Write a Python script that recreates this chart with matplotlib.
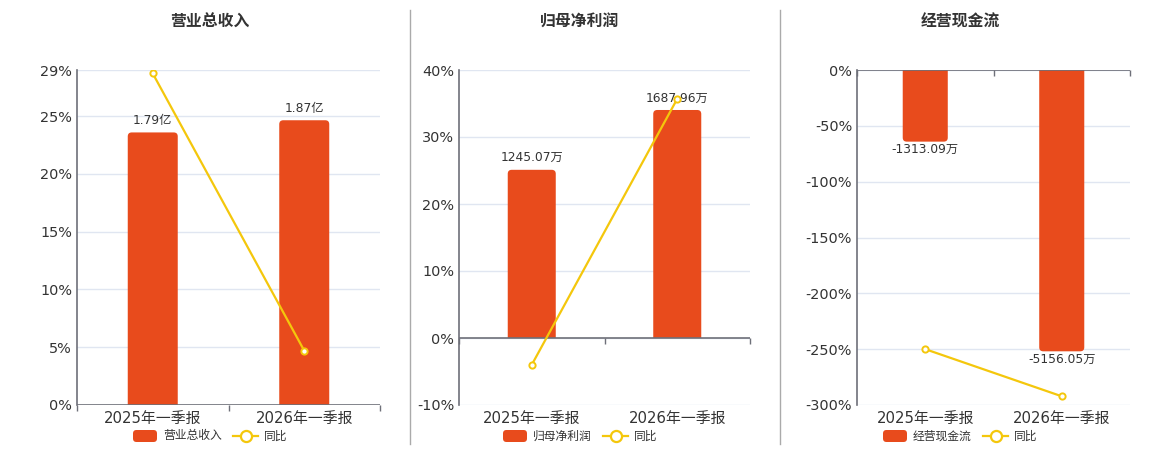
import matplotlib
matplotlib.use("Agg")
from matplotlib import pyplot as plt
from matplotlib.patches import FancyBboxPatch, PathPatch
from matplotlib.path import Path
from matplotlib.lines import Line2D
from matplotlib.transforms import Affine2D

plt.rcParams['font.family'] = ['DejaVu Sans', 'Noto Sans CJK SC']

# data
categories = ['2025年一季报', '2026年一季报']
titles = ['营业总收入', '归母净利润', '经营现金流']

revenue = [1.79, 1.87]            # 亿
revenue_labels = ['1.79亿', '1.87亿']
revenue_yoy = [28.7, 4.7]         # %

profit = [1245.07, 1687.96]       # 万
profit_labels = ['1245.07万', '1687.96万']
profit_yoy = [-4.0, 35.7]

cash = [-1313.09, -5156.05]       # 万
cash_labels = ['-1313.09万', '-5156.05万']
cash_yoy = [-250.0, -292.2]

pct_ticks = [[0, 5, 10, 15, 20, 25, 29],
             [-10, 0, 10, 20, 30, 40],
             [-300, -250, -200, -150, -100, -50, 0]]
pct_lims = [(0, 29), (-10, 40), (-300, 0)]
bar_lims = [(0, 2.2), (-496, 1984), (-6140, 0)]

BAR = '#E84B1C'
LINE = '#F4C70C'
TXT = '#333333'
AXIS = '#6E7079'
GRID = '#E0E6F1'

W, H = 1160, 450
fig = plt.figure(figsize=(W / 100, H / 100), dpi=100)
px = Affine2D().scale(1 / W, -1 / H).translate(0, 1) + fig.transFigure

# panel boxes in pixels: left, right, top, bottom
boxes = [(77, 380, 70, 405), (459, 750, 70, 405), (857, 1130, 70, 405)]
title_x = [210, 580, 960]
legend_x = [133, 503, 883]

series = [(revenue, revenue_labels, revenue_yoy),
          (profit, profit_labels, profit_yoy),
          (cash, cash_labels, cash_yoy)]


def round_bar(ax, rect, r=4):
    x0, y0 = rect.get_x(), rect.get_y()
    w, h = rect.get_width(), rect.get_height()
    p0 = ax.transData.transform((0, 0))
    p1 = ax.transData.transform((1, 1))
    rx = r / (p1[0] - p0[0])
    ry = r / (p1[1] - p0[1])
    top = y0 + h
    s = 1 if h >= 0 else -1
    verts = [(x0, y0), (x0, top - s * ry), (x0, top), (x0 + rx, top),
             (x0 + w - rx, top), (x0 + w, top), (x0 + w, top - s * ry),
             (x0 + w, y0), (x0, y0)]
    codes = [Path.MOVETO, Path.LINETO, Path.CURVE3, Path.CURVE3,
             Path.LINETO, Path.CURVE3, Path.CURVE3, Path.LINETO, Path.CLOSEPOLY]
    patch = PathPatch(Path(verts, codes), facecolor=rect.get_facecolor(),
                      edgecolor='none', zorder=rect.get_zorder())
    rect.remove()
    ax.add_patch(patch)


for i in range(3):
    l, r, t, b = boxes[i]
    pos = [l / W, 1 - b / H, (r - l) / W, (b - t) / H]
    vals, labels, yoy = series[i]
    lo, hi = pct_lims[i]
    blo, bhi = bar_lims[i]

    axb = fig.add_axes(pos)
    axl = axb.twinx()
    axb.set_zorder(1)
    axl.set_zorder(2)
    axl.patch.set_visible(False)

    x = list(range(len(categories)))
    axb.set_xlim(-0.5, 1.5)
    axb.set_ylim(blo, bhi)
    axl.set_ylim(lo, hi)

    # grid on the bar axis so it stays behind the bars
    gt = [blo + (v - lo) / (hi - lo) * (bhi - blo) for v in pct_ticks[i]]
    axb.set_yticks(gt)
    axb.yaxis.grid(True, color=GRID, linewidth=1)
    axb.set_axisbelow(True)
    axb.tick_params(axis='y', left=False, labelleft=False, right=False, labelright=False)

    bars = axb.bar(x, vals, width=0.33, color=BAR, zorder=2)
    for rect in list(bars):
        round_bar(axb, rect)

    for xi, v, lab in zip(x, vals, labels):
        if v >= 0:
            axb.annotate(lab, (xi, v), xytext=(0, 4), textcoords='offset points',
                         ha='center', va='bottom', fontsize=8.8, color=TXT, zorder=3)
        else:
            axb.annotate(lab, (xi, v), xytext=(0, -1), textcoords='offset points',
                         ha='center', va='top', fontsize=8.8, color=TXT, zorder=3)

    # yoy line on the percent axis
    axl.plot(x, yoy, color=LINE, linewidth=1.6, marker='o', markersize=4.5,
             markerfacecolor='white', markeredgecolor=LINE, markeredgewidth=1.4, zorder=5)
    axl.axhline(0, color=AXIS, linewidth=1.2, zorder=4)
    axl.plot([-0.5, 0.5, 1.5], [0, 0, 0], linestyle='none', marker=3, markersize=4,
             color=AXIS, markeredgewidth=1, clip_on=False, zorder=4)

    axl.yaxis.set_label_position('left')
    axl.yaxis.tick_left()
    axl.set_yticks(pct_ticks[i])
    axl.set_yticklabels([f'{v}%' for v in pct_ticks[i]])
    axl.tick_params(axis='y', length=0, pad=3.6, labelsize=10.4, labelcolor=TXT)

    axb.set_xticks(x)
    axb.set_xticklabels(categories)
    axb.tick_params(axis='x', length=0, pad=4.5, labelsize=10.7, labelcolor=TXT)

    for a in (axb, axl):
        for sp in a.spines.values():
            sp.set_visible(False)
    axl.spines['left'].set_visible(True)
    axl.spines['left'].set_color(AXIS)
    axl.spines['left'].set_linewidth(1.2)
    axl.spines['left'].set_position(('axes', 0))

    fig.text(title_x[i], 22, titles[i], transform=px, ha='center', va='center',
             fontsize=11.4, fontweight='bold', color=TXT)

    # legend drawn by hand
    lx = legend_x[i]
    fig.add_artist(FancyBboxPatch((lx, 430), 24, 12, boxstyle='round,pad=0,rounding_size=3.5',
                                  transform=px, facecolor=BAR, edgecolor='none'))
    fig.text(lx + 30, 436, titles[i], transform=px, ha='left', va='center',
             fontsize=8.5, color=TXT)
    fig.add_artist(Line2D([lx + 100, lx + 125], [436, 436], transform=px, color=LINE,
                          linewidth=1.6))
    fig.add_artist(Line2D([lx + 112.5], [436], transform=px, marker='o', markersize=8,
                          markerfacecolor='white', markeredgecolor=LINE, markeredgewidth=1.6))
    fig.text(lx + 131, 436, '同比', transform=px, ha='left', va='center',
             fontsize=8.5, color=TXT)

for sx in (410, 780):
    fig.add_artist(Line2D([sx, sx], [10, 444], transform=px, color='#AAAAAA', linewidth=1))

fig.savefig('out.png', dpi=100, facecolor='white')
